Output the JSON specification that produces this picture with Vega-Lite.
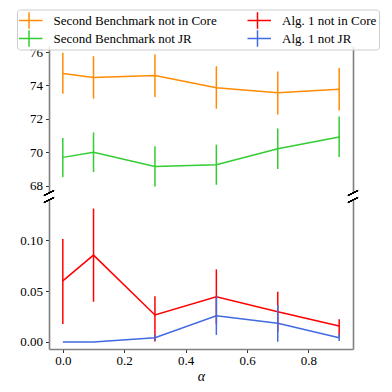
{
  "$schema": "https://vega.github.io/schema/vega-lite/v6.json",
  "padding": {"left": 5, "top": 9, "right": 5, "bottom": 5},
  "bounds": "flush",
  "config": {
    "font": "Liberation Serif",
    "view": {"stroke": null},
    "axis": {
      "domainColor": "#808080",
      "domainWidth": 1.6,
      "tickColor": "#333333",
      "tickSize": 3.5,
      "tickWidth": 1,
      "labelFontSize": 13,
      "labelColor": "black",
      "labelFont": "Liberation Serif",
      "labelFlush": false,
      "grid": false,
      "titleFontWeight": "normal",
      "titleColor": "black"
    }
  },
  "datasets": {
    "top": [
      {"alpha": 0.0, "series": "Second Benchmark not in Core", "value": 74.71, "lo": 73.51, "hi": 75.95},
      {"alpha": 0.1, "series": "Second Benchmark not in Core", "value": 74.47, "lo": 73.21, "hi": 75.75},
      {"alpha": 0.3, "series": "Second Benchmark not in Core", "value": 74.59, "lo": 73.31, "hi": 75.85},
      {"alpha": 0.5, "series": "Second Benchmark not in Core", "value": 73.87, "lo": 72.61, "hi": 75.15},
      {"alpha": 0.7, "series": "Second Benchmark not in Core", "value": 73.56, "lo": 72.26, "hi": 74.83},
      {"alpha": 0.9, "series": "Second Benchmark not in Core", "value": 73.77, "lo": 72.51, "hi": 75.05},
      {"alpha": 0.0, "series": "Second Benchmark not JR", "value": 69.70, "lo": 68.52, "hi": 70.86},
      {"alpha": 0.1, "series": "Second Benchmark not JR", "value": 70.00, "lo": 68.82, "hi": 71.19},
      {"alpha": 0.3, "series": "Second Benchmark not JR", "value": 69.16, "lo": 67.96, "hi": 70.36},
      {"alpha": 0.5, "series": "Second Benchmark not JR", "value": 69.26, "lo": 68.06, "hi": 70.46},
      {"alpha": 0.7, "series": "Second Benchmark not JR", "value": 70.22, "lo": 69.00, "hi": 71.42},
      {"alpha": 0.9, "series": "Second Benchmark not JR", "value": 70.92, "lo": 69.72, "hi": 72.15}
    ],
    "bottom": [
      {"alpha": 0.0, "series": "Alg. 1 not in Core", "value": 0.0600, "lo": 0.0176, "hi": 0.1010},
      {"alpha": 0.1, "series": "Alg. 1 not in Core", "value": 0.0853, "lo": 0.0395, "hi": 0.1310},
      {"alpha": 0.3, "series": "Alg. 1 not in Core", "value": 0.0265, "lo": 0.0004, "hi": 0.0450},
      {"alpha": 0.5, "series": "Alg. 1 not in Core", "value": 0.0444, "lo": 0.0175, "hi": 0.0713},
      {"alpha": 0.7, "series": "Alg. 1 not in Core", "value": 0.0297, "lo": 0.0101, "hi": 0.0493},
      {"alpha": 0.9, "series": "Alg. 1 not in Core", "value": 0.0157, "lo": 0.0052, "hi": 0.0222},
      {"alpha": 0.0, "series": "Alg. 1 not JR", "value": 0.0000, "lo": 0.0000, "hi": 0.0000},
      {"alpha": 0.1, "series": "Alg. 1 not JR", "value": 0.0000, "lo": 0.0000, "hi": 0.0000},
      {"alpha": 0.3, "series": "Alg. 1 not JR", "value": 0.0042, "lo": 0.0012, "hi": 0.0072},
      {"alpha": 0.5, "series": "Alg. 1 not JR", "value": 0.0258, "lo": 0.0069, "hi": 0.0447},
      {"alpha": 0.7, "series": "Alg. 1 not JR", "value": 0.0183, "lo": 0.0003, "hi": 0.0363},
      {"alpha": 0.9, "series": "Alg. 1 not JR", "value": 0.0042, "lo": 0.0009, "hi": 0.0075}
    ]
  },
  "resolve": {"legend": {"color": "independent"}},
  "spacing": 7,
  "vconcat": [
    {
      "width": 304,
      "height": 147,
      "data": {"name": "top"},
      "resolve": {"axis": {"y": "independent"}},
      "layer": [
        {
          "mark": {"type": "line", "strokeWidth": 1.5},
          "encoding": {
            "x": {"field": "alpha", "type": "quantitative", "scale": {"domain": [-0.045, 0.945], "nice": false, "zero": false}, "axis": null},
            "y": {"field": "value", "type": "quantitative", "scale": {"domain": [67.57, 76.36], "nice": false, "zero": false},
                  "axis": {"orient": "left", "values": [68, 70, 72, 74, 76], "title": null, "minExtent": 44, "maxExtent": 44, "labelPadding": 3}},
            "color": {
              "field": "series", "type": "nominal",
              "scale": {"domain": ["Second Benchmark not in Core", "Second Benchmark not JR", "Alg. 1 not in Core", "Alg. 1 not JR"],
                        "range": ["#ff8c00", "#32cd32", "#ff0000", "#4169e1"]},
              "legend": {
                "orient": "none", "legendX": -32, "legendY": -36.5, "columns": 2, "title": null,
                "symbolType": "M-1.5,0H1.5M0,-0.93V0.93", "symbolSize": 324, "symbolStrokeWidth": 1.5,
                "labelFontSize": 13, "labelFont": "Liberation Serif", "labelColor": "black", "labelOffset": 14.5,
                "labelLimit": 400, "padding": 2, "columnPadding": 30.5, "rowPadding": 0, "clipHeight": 18,
                "fillColor": "rgba(255,255,255,0.8)", "strokeColor": "#cccccc", "cornerRadius": 3
              }
            }
          }
        },
        {
          "mark": {"type": "rule", "strokeWidth": 1.5},
          "encoding": {
            "x": {"field": "alpha", "type": "quantitative", "axis": null},
            "y": {"field": "lo", "type": "quantitative",
                  "axis": {"orient": "right", "labels": false, "ticks": false, "title": null, "domain": true}},
            "y2": {"field": "hi"},
            "color": {"field": "series", "type": "nominal"}
          }
        },
        {
          "mark": {"type": "rule", "strokeWidth": 1, "color": "black"},
          "encoding": {
            "x": {"datum": -0.0614, "type": "quantitative", "axis": null},
            "x2": {"datum": -0.0286},
            "y": {"datum": 67.42, "type": "quantitative", "axis": null},
            "y2": {"datum": 67.72}
          }
        },
        {
          "mark": {"type": "rule", "strokeWidth": 1, "color": "black"},
          "encoding": {
            "x": {"datum": 0.9286, "type": "quantitative", "axis": null},
            "x2": {"datum": 0.9614},
            "y": {"datum": 67.42, "type": "quantitative", "axis": null},
            "y2": {"datum": 67.72}
          }
        }
      ]
    },
    {
      "width": 304,
      "height": 149,
      "data": {"name": "bottom"},
      "resolve": {"axis": {"y": "independent"}},
      "layer": [
        {
          "mark": {"type": "line", "strokeWidth": 1.5},
          "encoding": {
            "x": {"field": "alpha", "type": "quantitative", "scale": {"domain": [-0.045, 0.945], "nice": false, "zero": false},
                  "axis": {"values": [0, 0.2, 0.4, 0.6, 0.8], "format": ".1f", "title": "α", "titleFontStyle": "italic", "titleFontSize": 14, "titleFont": "Liberation Serif", "labelPadding": 2, "titlePadding": 2}},
            "y": {"field": "value", "type": "quantitative", "scale": {"domain": [-0.0069, 0.1394], "nice": false, "zero": false},
                  "axis": {"orient": "left", "values": [0, 0.05, 0.1], "format": ".2f", "title": null, "minExtent": 44, "maxExtent": 44, "labelPadding": 3}},
            "color": {
              "field": "series", "type": "nominal",
              "scale": {"domain": ["Second Benchmark not in Core", "Second Benchmark not JR", "Alg. 1 not in Core", "Alg. 1 not JR"],
                        "range": ["#ff8c00", "#32cd32", "#ff0000", "#4169e1"]},
              "legend": null
            }
          }
        },
        {
          "mark": {"type": "rule", "strokeWidth": 1.5},
          "encoding": {
            "x": {"field": "alpha", "type": "quantitative"},
            "y": {"field": "lo", "type": "quantitative",
                  "axis": {"orient": "right", "labels": false, "ticks": false, "title": null, "domain": true}},
            "y2": {"field": "hi"},
            "color": {"field": "series", "type": "nominal", "legend": null}
          }
        },
        {
          "mark": {"type": "rule", "strokeWidth": 1, "color": "black"},
          "encoding": {
            "x": {"datum": -0.0614, "type": "quantitative"},
            "x2": {"datum": -0.0286},
            "y": {"datum": 0.1370, "type": "quantitative", "axis": null},
            "y2": {"datum": 0.1419}
          }
        },
        {
          "mark": {"type": "rule", "strokeWidth": 1, "color": "black"},
          "encoding": {
            "x": {"datum": 0.9286, "type": "quantitative"},
            "x2": {"datum": 0.9614},
            "y": {"datum": 0.1370, "type": "quantitative", "axis": null},
            "y2": {"datum": 0.1419}
          }
        }
      ]
    }
  ]
}
